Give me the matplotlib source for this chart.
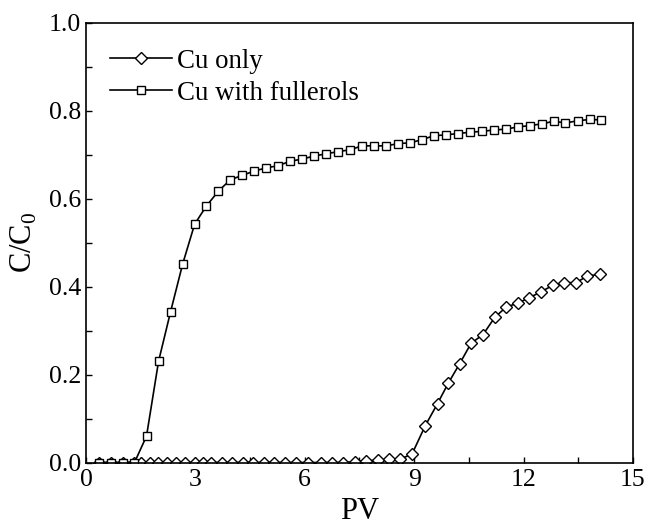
"""Cu breakthrough curves: C/C0 vs PV, with and without fullerols."""
import matplotlib
matplotlib.use("Agg")
import matplotlib.pyplot as plt
from matplotlib.ticker import MultipleLocator

plt.rcParams['font.family'] = ['Liberation Serif', 'DejaVu Serif']

# Cu only (diamonds)
pv_cu = [0.35, 0.68, 1.01, 1.33, 1.5, 1.75, 1.98, 2.23, 2.47, 2.72, 2.98, 3.2,
         3.43, 3.73, 4.0, 4.3, 4.59, 4.88, 5.16, 5.45, 5.75, 6.1, 6.44, 6.74,
         7.06, 7.38, 7.68, 8.0, 8.32, 8.62, 8.94, 9.3, 9.64, 9.94, 10.25, 10.56,
         10.89, 11.21, 11.53, 11.84, 12.16, 12.48, 12.8, 13.12, 13.44, 13.75, 14.09]
c_cu = [0, 0, 0, 0, 0, 0, 0, 0, 0, 0, 0, 0,
        0, 0, 0, 0, 0, 0, 0, 0, 0, 0, 0, 0,
        0, 0.002, 0.004, 0.005, 0.007, 0.008, 0.019, 0.083, 0.134, 0.181, 0.225, 0.271,
        0.291, 0.330, 0.354, 0.362, 0.375, 0.388, 0.403, 0.409, 0.409, 0.424, 0.428]

# Cu with fullerols (squares)
pv_ful = [0.35, 0.68, 1.01, 1.33, 1.66, 1.99, 2.32, 2.65, 2.98, 3.3, 3.63, 3.96,
          4.29, 4.62, 4.95, 5.27, 5.6, 5.93, 6.26, 6.59, 6.92, 7.24, 7.57, 7.9,
          8.23, 8.56, 8.89, 9.21, 9.54, 9.87, 10.2, 10.53, 10.86, 11.18, 11.51,
          11.84, 12.17, 12.5, 12.83, 13.15, 13.48, 13.81, 14.13]
c_ful = [0, 0, 0, 0, 0.06, 0.23, 0.343, 0.451, 0.542, 0.583, 0.617, 0.643,
         0.653, 0.663, 0.670, 0.675, 0.685, 0.690, 0.697, 0.702, 0.707, 0.711,
         0.720, 0.720, 0.720, 0.725, 0.727, 0.734, 0.743, 0.745, 0.748, 0.751,
         0.753, 0.756, 0.758, 0.763, 0.766, 0.770, 0.776, 0.772, 0.777, 0.780, 0.779]

fig = plt.figure(figsize=(6.46, 5.32), dpi=100)
ax = fig.add_axes([0.1331, 0.1306, 0.8467, 0.8267])

ax.plot(pv_cu, c_cu, color='black', linewidth=1.2, marker='D', markersize=6.4,
        markerfacecolor='white', markeredgecolor='black', markeredgewidth=1.0,
        label='Cu only')
ax.plot(pv_ful, c_ful, color='black', linewidth=1.2, marker='s', markersize=6,
        markerfacecolor='white', markeredgecolor='black', markeredgewidth=1.0,
        label='Cu with fullerols')

ax.set_xlim(0, 15)
ax.set_ylim(0, 1.0)
ax.xaxis.set_major_locator(MultipleLocator(3))
ax.xaxis.set_minor_locator(MultipleLocator(1.5))
ax.yaxis.set_major_locator(MultipleLocator(0.2))
ax.yaxis.set_minor_locator(MultipleLocator(0.1))
ax.yaxis.set_major_formatter(matplotlib.ticker.FormatStrFormatter('%.1f'))
ax.tick_params(which='both', direction='in', length=4, width=1.0,
               labelsize=18.5, top=False, right=False)
ax.tick_params(axis='x', pad=5)
for s in ax.spines.values():
    s.set_linewidth(1.2)

ax.set_xlabel('PV', fontsize=22, labelpad=4)
ax.set_ylabel(r'C/C$_\mathregular{0}$', fontsize=22, labelpad=7)

ax.legend(loc='upper left', bbox_to_anchor=(0.024, 0.965), frameon=False,
          fontsize=19.4, handlelength=2.3, handletextpad=0.2, labelspacing=0.26,
          borderaxespad=0.0)

fig.savefig('out.png', dpi=100)
